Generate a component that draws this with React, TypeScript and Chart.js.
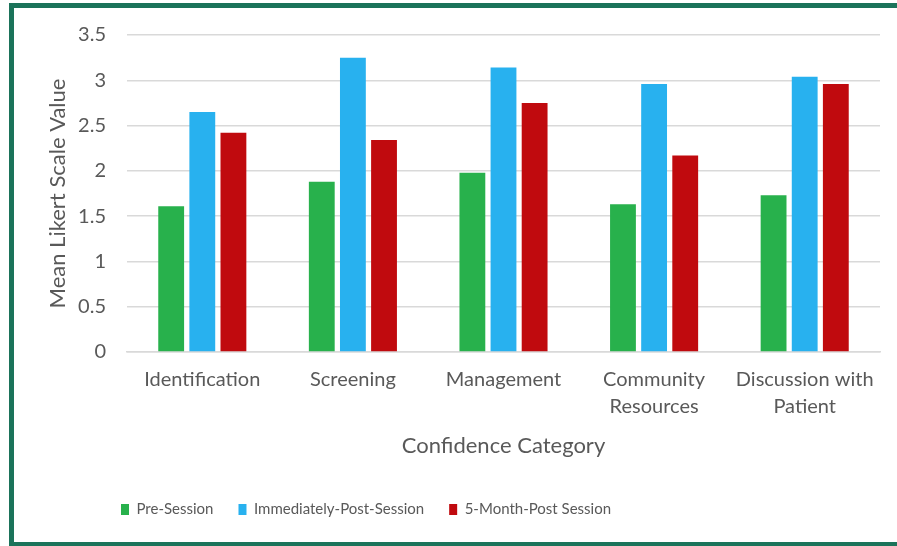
import React, { useEffect, useRef } from "react";
import { Chart, registerables } from "chart.js";

Chart.register(...registerables);

const categories: (string | string[])[] = [
  "Identification",
  "Screening",
  "Management",
  ["Community", "Resources"],
  ["Discussion with", "Patient"],
];
const seriesNames = ["Pre-Session", "Immediately-Post-Session", "5-Month-Post Session"];
const preSession = [1.61, 1.88, 1.98, 1.63, 1.73];
const immediatelyPost = [2.65, 3.25, 3.14, 2.96, 3.04];
const fiveMonthPost = [2.42, 2.34, 2.75, 2.17, 2.96];
const seriesColors = ["#28b14c", "#28b1ef", "#c00a0e"];
const yTitle = "Mean Likert Scale Value";
const xTitle = "Confidence Category";

const FONT = "Lato, 'Open Sans', sans-serif";
const TEXT = "#595959";

const legendShift = {
  id: "legendShift",
  beforeDraw(chart: any) {
    const lg = chart.legend;
    if (lg) {
      const w = lg.right - lg.left;
      lg.left = 82;
      lg.right = 82 + w;
      lg.top += 6;
      lg.bottom += 6;
    }
  },
};

export default function App() {
  const ref = useRef<HTMLCanvasElement | null>(null);
  useEffect(() => {
    if (!ref.current) return;
    const data = [preSession, immediatelyPost, fiveMonthPost];
    const chart = new Chart(ref.current, {
      type: "bar",
      data: {
        labels: categories,
        datasets: data.map((d, i) => ({
          label: seriesNames[i],
          data: d,
          backgroundColor: seriesColors[i],
          borderWidth: 0,
          categoryPercentage: 0.62,
          barPercentage: 0.83,
        })),
      },
      plugins: [legendShift],
      options: {
        animation: false,
        responsive: true,
        maintainAspectRatio: false,
        layout: { padding: { top: 27, right: 17, left: 10, bottom: 21 } },
        plugins: {
          legend: {
            position: "bottom",
            align: "start",
            labels: {
              boxWidth: 8,
              boxHeight: 11,
              padding: 25,
              color: TEXT,
              font: { family: FONT, size: 15 },
            },
          },
          tooltip: { enabled: false },
        },
        scales: {
          x: {
            afterFit: (s: any) => {
              s.height = 119;
            },
            grid: { display: false, drawTicks: false },
            border: { color: "#d9d9d9", width: 1.5 },
            ticks: {
              color: TEXT,
              font: { family: FONT, size: 20, lineHeight: "27px" },
              maxRotation: 0,
              autoSkip: false,
              padding: 14,
            },
            title: {
              display: true,
              text: xTitle,
              color: TEXT,
              font: { family: FONT, size: 22 },
              padding: { top: 12, bottom: 12 },
            },
          },
          y: {
            min: 0,
            max: 3.5,
            afterFit: (s: any) => {
              s.width = 103;
              s.paddingTop = 0;
            },
            grid: { color: "#d9d9d9", lineWidth: 1.5, drawTicks: false },
            border: { display: false },
            ticks: {
              stepSize: 0.5,
              color: TEXT,
              font: { family: FONT, size: 20 },
              padding: 21,
              callback: (v: any) => String(Number(v)),
            },
            title: {
              display: true,
              text: yTitle,
              color: TEXT,
              font: { family: FONT, size: 22 },
              padding: { top: 21, bottom: 4 },
            },
          },
        },
      },
    });
    return () => chart.destroy();
  }, []);

  return (
    <div
      style={{
        position: "fixed",
        left: 9,
        top: 3,
        width: 910,
        height: 544,
        border: "5px solid #1b735a",
        boxSizing: "border-box",
        background: "#fff",
      }}
    >
      <div style={{ position: "absolute", left: 0, top: 0, width: 883, height: 534 }}>
        <canvas ref={ref} />
      </div>
    </div>
  );
}
